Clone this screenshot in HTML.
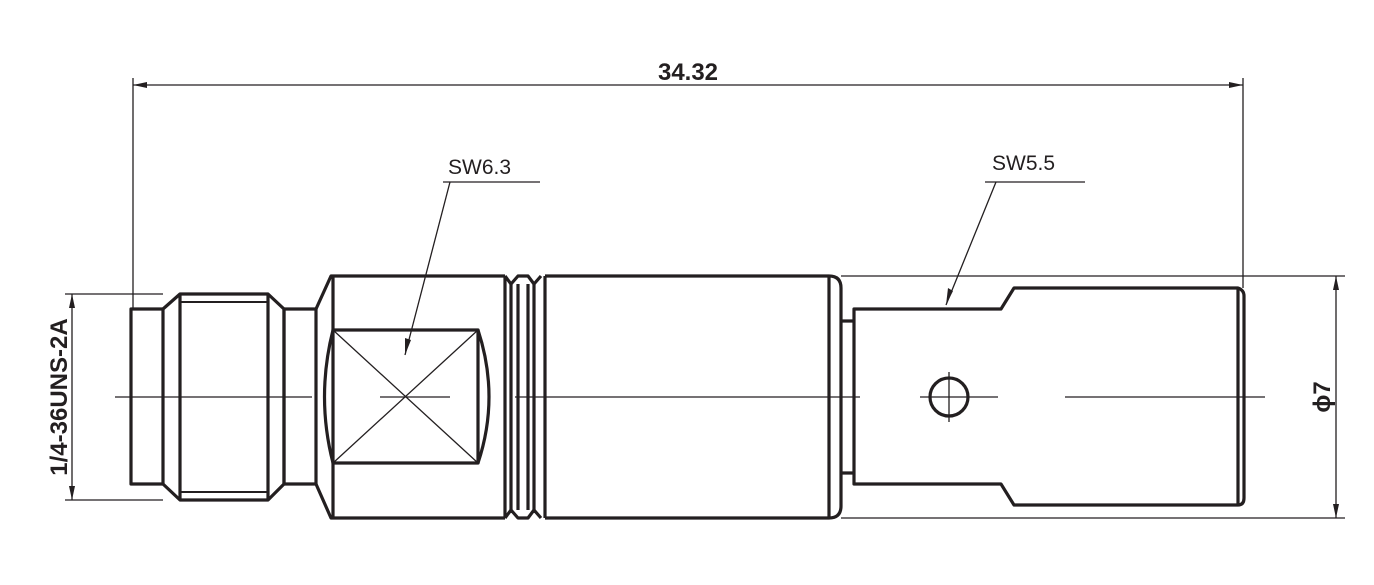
<!DOCTYPE html><html><head><style>body{margin:0;background:#fff}svg{display:block}</style></head><body>
<svg width="1374" height="585" viewBox="0 0 1374 585" xmlns="http://www.w3.org/2000/svg" font-family="Liberation Sans, sans-serif">
<g fill="none" stroke="#231f20" stroke-width="3.2" stroke-linejoin="round">
<rect x="131" y="309" width="32" height="175"/>
<path d="M163 309 L180 294 L268 294 L284 309 L284 484 L268 500 L180 500 L163 484"/>
<line x1="180" y1="294" x2="180" y2="500"/><line x1="268" y1="294" x2="268" y2="500"/>
<line x1="180" y1="302" x2="268" y2="302" stroke-width="2"/><line x1="180" y1="492" x2="268" y2="492" stroke-width="2"/>
<rect x="284" y="309" width="32" height="175"/>
<path d="M316 309 L331 276 L505 276 M316 484 L331 518 L505 518"/>
<line x1="333" y1="276" x2="333" y2="330"/><line x1="333" y1="463" x2="333" y2="518"/>
<rect x="333" y="330" width="145" height="133"/>
<path d="M333 330 Q316 397 333 463"/><path d="M478 330 Q500 397 478 463"/>
<path d="M505 276 L505 518 M511 284 L511 510 M518 284 L518 510 M528 284 L528 510 M534 284 L534 510 M545 276 L545 518"/>
<path d="M505 276 L511 284 L518 276 L528 276 L534 284 L541 276 M505 518 L511 510 L518 518 L528 518 L534 510 L541 518"/>
<path d="M545 276 L829 276 Q841 276 841 288 L841 506 Q841 518 829 518 L545 518"/>
<line x1="829" y1="276" x2="829" y2="518"/>
<path d="M841 321 L854 321 M841 473 L854 473"/>
<path d="M854 309 L1001 309 L1014 288 L1238 288 Q1244 290 1244 296 L1244 498 Q1244 505 1238 505 L1014 505 L1001 484 L854 484 Z"/>
<line x1="1238" y1="288" x2="1238" y2="505"/>
<circle cx="949" cy="397" r="19"/>
</g>
<g stroke="#231f20" stroke-width="1.3" fill="none">
<line x1="333" y1="330" x2="478" y2="463"/><line x1="478" y1="330" x2="333" y2="463"/>
<line x1="115" y1="397" x2="312" y2="397"/><line x1="380" y1="397" x2="450" y2="397"/>
<line x1="515" y1="397" x2="860" y2="397"/><line x1="920" y1="397" x2="998" y2="397"/><line x1="1065" y1="397" x2="1265" y2="397"/>
<line x1="949" y1="372" x2="949" y2="422"/>
<line x1="133" y1="78" x2="133" y2="309"/><line x1="1243" y1="78" x2="1243" y2="288"/>
<line x1="133" y1="85" x2="1243" y2="85"/>
<line x1="65" y1="294" x2="163" y2="294"/><line x1="65" y1="500" x2="163" y2="500"/>
<line x1="72" y1="294" x2="72" y2="500"/>
<line x1="841" y1="276" x2="1345" y2="276"/><line x1="841" y1="518" x2="1345" y2="518"/>
<line x1="1336" y1="276" x2="1336" y2="518"/>
<line x1="443" y1="182" x2="540" y2="182"/><line x1="450" y1="182" x2="405" y2="355"/>
<line x1="985" y1="182" x2="1085" y2="182"/><line x1="996" y1="182" x2="946" y2="305"/>
</g>
<g fill="#231f20">
<path d="M133 85 l14 -3 l0 6z"/><path d="M1243 85 l-14 -3 l0 6z"/>
<path d="M72 294 l-3 14 l6 0z"/><path d="M72 500 l-3 -14 l6 0z"/>
<path d="M1336 276 l-3 14 l6 0z"/><path d="M1336 518 l-3 -14 l6 0z"/>
<path d="M405 355 l0 -17 l6 2z"/><path d="M946 305 l2 -17 l5 3z"/>
</g>
<g fill="#231f20" font-size="24" font-weight="bold">
<text x="688" y="80" text-anchor="middle">34.32</text>
<text x="448" y="174" font-size="21" font-weight="normal">SW6.3</text>
<text x="992" y="170" font-size="21" font-weight="normal">SW5.5</text>
<text transform="translate(67,397) rotate(-90)" text-anchor="middle">1/4-36UNS-2A</text>
<text transform="translate(1330,397) rotate(-90)" text-anchor="middle">ϕ7</text>
</g>
</svg></body></html>
